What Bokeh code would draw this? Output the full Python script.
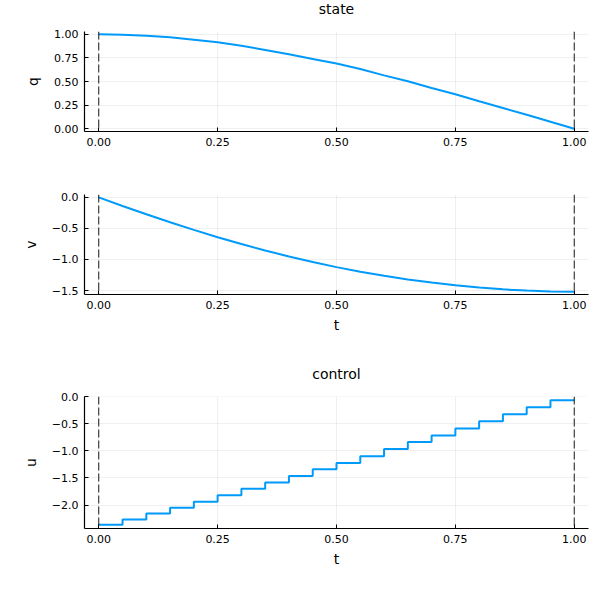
from bokeh.plotting import figure
from bokeh.layouts import column
from bokeh.models import Range1d, FixedTicker, CustomJSTickFormatter, Span
from bokeh.core.properties import value
from bokeh.embed import file_html
from bokeh.resources import INLINE

# ---- data ----
t_vals = [0.00, 0.05, 0.10, 0.15, 0.20, 0.25, 0.30, 0.35, 0.40, 0.45, 0.50,
          0.55, 0.60, 0.65, 0.70, 0.75, 0.80, 0.85, 0.90, 0.95, 1.00]
q_vals = [1.000, 0.996, 0.986, 0.968, 0.943, 0.915, 0.880, 0.834, 0.788, 0.739, 0.690,
          0.633, 0.565, 0.502, 0.431, 0.364, 0.290, 0.219, 0.148, 0.074, 0.000]
v_vals = [0.000, -0.139, -0.273, -0.401, -0.524, -0.642, -0.752, -0.855, -0.951, -1.041, -1.123,
          -1.197, -1.263, -1.321, -1.372, -1.416, -1.452, -1.481, -1.501, -1.514, -1.518]
u_vals = [-2.363, -2.265, -2.154, -2.049, -1.938, -1.820, -1.700, -1.585, -1.462, -1.339,
          -1.222, -1.098, -0.968, -0.839, -0.715, -0.586, -0.456, -0.326, -0.197, -0.067]
x_ticks = [0.0, 0.25, 0.5, 0.75, 1.0]
q_ticks = [0.0, 0.25, 0.5, 0.75, 1.0]
v_ticks = [0.0, -0.5, -1.0, -1.5]
u_ticks = [0.0, -0.5, -1.0, -1.5, -2.0]
vline_at = [0.0, 1.0]
titles = ["state", "control"]

BLUE = "#009AFA"
FONT = "DejaVu Sans"
FRAME_W = 504


def padded(vals):
    lo, hi = min(vals), max(vals)
    pad = 0.03 * (hi - lo)
    return Range1d(lo - pad, hi + pad)


x_range = padded(t_vals)


def fmt(digits):
    return CustomJSTickFormatter(
        code="return tick.toFixed(%d).replace('-', '\u2212');" % digits)


def title_fig(text, h, center_from_top):
    p = figure(x_range=Range1d(0, 1), y_range=Range1d(0, h),
               frame_width=FRAME_W, frame_height=h,
               output_backend="svg", toolbar_location=None,
               min_border_left=84, min_border_right=2,
               min_border_top=0, min_border_bottom=0)
    p.axis.visible = False
    p.grid.visible = False
    p.outline_line_color = None
    p.text(x=[0.5], y=[h - center_from_top], text=[text], text_align="center",
           text_baseline="middle", text_font=value(FONT),
           text_font_size="14px", text_color="black")
    return p


def make(ylabel, xlabel, y_range, yticks, ydig, fh, top, bottom):
    p = figure(x_range=x_range, y_range=y_range, frame_width=FRAME_W, frame_height=fh,
               output_backend="svg", toolbar_location=None,
               min_border_left=84, min_border_right=2,
               min_border_top=top, min_border_bottom=bottom)
    p.outline_line_color = None
    p.background_fill_color = "white"
    for ax, ticks, dig in ((p.xaxis[0], x_ticks, 2), (p.yaxis[0], yticks, ydig)):
        ax.ticker = FixedTicker(ticks=ticks)
        ax.formatter = fmt(dig)
        ax.major_tick_in = 4
        ax.major_tick_out = 0
        ax.minor_tick_line_color = None
        ax.axis_line_color = "black"
        ax.axis_line_width = 1.2
        ax.major_tick_line_color = "black"
        ax.major_label_text_font = FONT
        ax.major_label_text_font_size = "11px"
        ax.major_label_text_color = "black"
        ax.axis_label_text_font = FONT
        ax.axis_label_text_font_size = "14px"
        ax.axis_label_text_font_style = "normal"
        ax.axis_label_text_color = "black"
        ax.major_label_standoff = 6
    p.yaxis.axis_label = ylabel
    p.yaxis.axis_label_standoff = 10
    if xlabel:
        p.xaxis.axis_label = xlabel
        p.xaxis.axis_label_standoff = 5
    p.grid.grid_line_color = "black"
    p.grid.grid_line_alpha = 0.1
    p.grid.grid_line_width = 0.6
    for loc in vline_at:
        p.add_layout(Span(location=loc, dimension="height", line_color="black",
                          line_width=1, line_dash="8 3", line_alpha=0.9))
    return p


t1 = title_fig(titles[0], 26, 8.5)
p1 = make("q", None, padded(q_vals), q_ticks, 2, 100, 5, 32)
p1.line(t_vals, q_vals, line_color=BLUE, line_width=2)

p2 = make("v", "t", padded(v_vals), v_ticks, 1, 100, 31, 45)
p2.line(t_vals, v_vals, line_color=BLUE, line_width=2)

t3 = title_fig(titles[1], 45, 34)
u_ext = u_vals + [u_vals[-1]]
p3 = make("u", "t", padded(u_vals), u_ticks, 1, 132, 12, 40)
p3.step(t_vals, u_ext, mode="after", line_color=BLUE, line_width=2)

layout = column(t1, p1, p2, t3, p3, spacing=0)
open("out.html", "w").write(file_html(layout, INLINE))
